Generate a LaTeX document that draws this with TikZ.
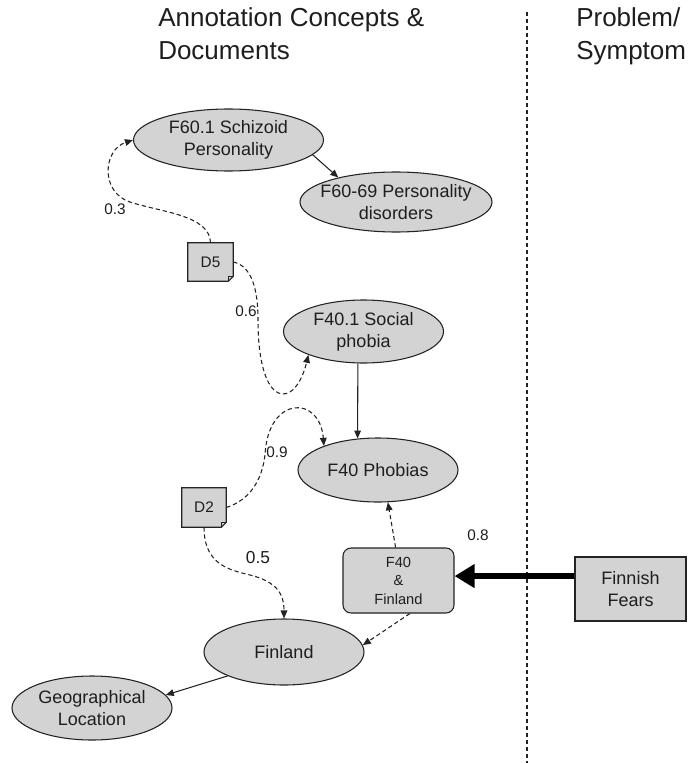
\documentclass[tikz,border=0pt]{standalone}
\usepackage{fontspec}
\setmainfont{Liberation Sans}
\usetikzlibrary{shapes.geometric,arrows.meta,calc}

\definecolor{nodefill}{RGB}{211,211,211}
\definecolor{edgecol}{RGB}{35,35,35}
\definecolor{inkcol}{RGB}{30,30,30}

\begin{document}
\begin{tikzpicture}[x=0.75pt,y=-0.75pt,
  ell/.style={ellipse, draw=edgecol, fill=nodefill, line width=0.8pt, inner sep=0pt},
  etext/.style={font=\fontsize{13.5}{16.5}\selectfont, text=inkcol, align=center, inner sep=0pt},
  boxnode/.style={rectangle, draw=edgecol, fill=nodefill, line width=0.8pt, inner sep=0pt},
  docbox/.style={rectangle, inner sep=0pt, minimum width=#1},
  docline/.style={draw=edgecol, fill=nodefill, line width=0.8pt, line join=miter},
  doctext/.style={font=\fontsize{11.5}{13}\selectfont, text=inkcol, inner sep=0pt},
  lbl/.style={font=\fontsize{11.5}{13}\selectfont, text=inkcol, inner sep=0pt},
  title/.style={font=\fontsize{19.5}{24}\selectfont, text=inkcol, anchor=base west, inner sep=0pt},
  rel/.style={draw=edgecol, line width=0.8pt, -{Triangle[length=6pt,width=5pt]}},
  dep/.style={draw=edgecol, line width=0.8pt, dash pattern=on 3.2pt off 2.2pt, -{Triangle[length=6pt,width=5pt]}}
]
\fill[white] (0,0) rectangle (695,763);
\useasboundingbox (0,0) rectangle (695,763);

% column headings
\node[title] (h1a) at (158,27) {Annotation Concepts \&};
\node[title] (h1b) at (158,60) {Documents};
\node[title] (h2a) at (576,27) {Problem/};
\node[title] (h2b) at (576,60) {Symptom};

% column separator
\coordinate (septop) at (527,12);
\coordinate (sepbot) at (527,763);
\draw[edgecol, line width=0.8pt, dash pattern=on 3pt off 2.25pt] (septop) -- (sepbot);

% concept ellipses
\node[ell, minimum width=142.5pt, minimum height=46.5pt] (s1) at (228.5,140) {};
\node[etext] (s1t) at (s1) {F60.1 Schizoid\\Personality};
\node[ell, minimum width=144pt, minimum height=45pt] (s2) at (396,202) {};
\node[etext] (s2t) at (s2) {F60-69 Personality\\disorders};
\node[ell, minimum width=120pt, minimum height=47.25pt] (s3) at (363.5,331.5) {};
\node[etext] (s3t) at (s3) {F40.1 Social\\phobia};
\node[ell, minimum width=120pt, minimum height=48pt] (s4) at (378,470) {};
\node[etext] (s4t) at (s4) {F40 Phobias};
\node[ell, minimum width=120pt, minimum height=49.5pt] (fin) at (284,652) {};
\node[etext] (fint) at (fin) {Finland};
\node[ell, minimum width=120pt, minimum height=48pt] (geo) at (92,708) {};
\node[etext] (geot) at (geo) {Geographical\\Location};

% combined concept and symptom boxes
\node[boxnode, rounded corners=6pt, minimum width=83.25pt, minimum height=48.75pt] (fa) at (398.5,580.5) {};
\node[etext, font=\fontsize{11}{13.9}\selectfont] (fat) at (fa) {F40\\\&\\Finland};
\node[boxnode, minimum width=83.25pt, minimum height=48pt] (ff) at (630.5,589) {};
\node[etext] (fft) at (ff) {Finnish\\Fears};

% documents with folded corner
\path node[docbox=33.75pt, minimum height=28.5pt] (d5) at (210.5,262) {};
\filldraw[docline] (d5.north west) -- (d5.north east) -- ($(d5.south east)+(0,-5)$)
  -- ($(d5.south east)+(-5,0)$) -- (d5.south west) -- cycle;
\draw[edgecol, line width=0.6pt] ($(d5.south east)+(0,-5)$) -- ($(d5.south east)+(-5,-5)$) -- ($(d5.south east)+(-5,0)$);
\node[doctext] (d5t) at (d5) {D5};

\path node[docbox=33pt, minimum height=29.25pt] (d2) at (204,507.5) {};
\filldraw[docline] (d2.north west) -- (d2.north east) -- ($(d2.south east)+(0,-5)$)
  -- ($(d2.south east)+(-5,0)$) -- (d2.south west) -- cycle;
\draw[edgecol, line width=0.6pt] ($(d2.south east)+(0,-5)$) -- ($(d2.south east)+(-5,-5)$) -- ($(d2.south east)+(-5,0)$);
\node[doctext] (d2t) at (d2) {D2};

% concept hierarchy
\draw[rel] (s1.-10) -- (s2.157);
\draw[rel] (s3.260) -- (s4.123);
\draw[rel] (fin.203) -- (geo.10);

% document annotations
\draw[dep] (d5.north) .. controls (210,215) and (160,212) .. (130,202)
  .. controls (100,192) and (103,150) .. (s1.west);
\draw[dep] (d5.east) .. controls (252,266) and (258,290) .. (258,320)
  .. controls (258,410) and (295,410) .. (s3.203);
\draw[dep] (d2.east) .. controls (250,500) and (262,480) .. (265,455)
  .. controls (268,395) and (320,395) .. (s4.156);
\draw[dep] (d2.south) .. controls (204,565) and (230,570) .. (250,575)
  .. controls (278,582) and (284,595) .. (fin.north);

% combined concept links
\draw[dep] (fa.95) -- (s4.287);
\draw[dep] (fa.-71) -- (fin.5);

% symptom mapping
\draw[black, line width=5pt, -{Triangle[length=15pt,width=17pt]}] (ff.167) -- (fa.east |- ff.167);

% weights
\node[lbl] (w03) at (115,209) {0.3};
\node[lbl] (w06) at (246,311) {0.6};
\node[lbl] (w09) at (277,452) {0.9};
\node[lbl, font=\fontsize{13}{15}\selectfont] (w05) at (258,558) {0.5};
\node[lbl] (w08) at (478,535) {0.8};
\end{tikzpicture}
\end{document}
